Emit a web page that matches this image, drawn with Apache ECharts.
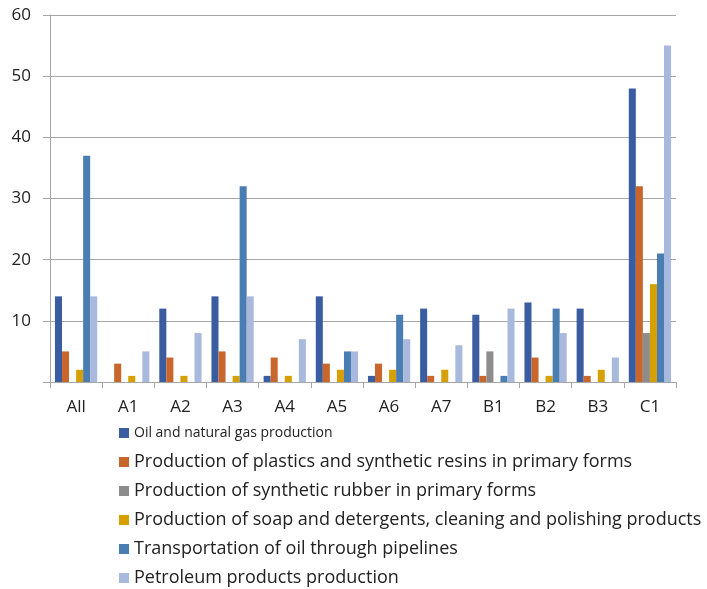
<!DOCTYPE html>
<html>
<head>
<meta charset="utf-8">
<script src="https://cdn.jsdelivr.net/npm/echarts@6/dist/echarts.min.js"></script>
<style>
  html, body { margin: 0; padding: 0; background: #fff; }
  #chart { width: 707px; height: 589px; }
</style>
</head>
<body>
<div id="chart"></div>
<script>
// Categories along the x axis
const categories = ['All', 'A1', 'A2', 'A3', 'A4', 'A5', 'A6', 'A7', 'B1', 'B2', 'B3', 'C1'];

// Series names
const seriesNames = [
  'Oil and natural gas production',
  'Production of plastics and synthetic resins in primary forms',
  'Production of synthetic rubber in primary forms',
  'Production of soap and detergents, cleaning and polishing products',
  'Transportation of oil through pipelines',
  'Petroleum products production'
];

// Values per series, one per category
const oilGas      = [14, 0, 12, 14, 1, 14, 1, 12, 11, 13, 12, 48];
const plastics    = [5, 3, 4, 5, 4, 3, 3, 1, 1, 4, 1, 32];
const rubber      = [0, 0, 0, 0, 0, 0, 0, 0, 5, 0, 0, 8];
const soap        = [2, 1, 1, 1, 1, 2, 2, 2, 0, 1, 2, 16];
const pipelines   = [37, 0, 0, 32, 0, 5, 11, 0, 1, 12, 0, 21];
const petroleum   = [14, 5, 8, 14, 7, 5, 7, 6, 12, 8, 4, 55];

// Y axis tick values
const yTicks = [0, 10, 20, 30, 40, 50, 60];

const seriesValues = [oilGas, plastics, rubber, soap, pipelines, petroleum];
const colors = ['#3A5DA2', '#C8662C', '#8C8C8C', '#D6A100', '#4A7EB3', '#A9B8DD'];

const chart = echarts.init(document.getElementById('chart'), null, { renderer: 'canvas' });

const fontFamily = '"Open Sans", Lato, sans-serif';

chart.setOption({
  animation: false,
  color: colors,
  grid: { left: 50, right: 31, top: 15, bottom: 207, containLabel: false },
  xAxis: {
    type: 'category',
    data: categories,
    axisLine: { show: true, lineStyle: { color: '#A6A6A6', width: 1 } },
    axisTick: { show: true, length: 6, alignWithLabel: false, lineStyle: { color: '#A6A6A6' } },
    axisLabel: { color: '#222', fontSize: 17, fontFamily: fontFamily, margin: 17 }
  },
  yAxis: {
    type: 'value',
    min: yTicks[0],
    max: yTicks[yTicks.length - 1],
    interval: 10,
    axisLine: { show: true, lineStyle: { color: '#A6A6A6', width: 1 } },
    axisTick: { show: true, length: 7, lineStyle: { color: '#A6A6A6' } },
    splitLine: { show: true, lineStyle: { color: '#A6A6A6', width: 1 } },
    axisLabel: {
      color: '#222', fontSize: 17, fontFamily: fontFamily, margin: 19,
      formatter: v => (v === 0 ? '' : String(v))
    }
  },
  legend: {
    orient: 'vertical',
    left: 114,
    top: 418,
    height: 175,
    itemWidth: 10,
    itemHeight: 10,
    itemGap: 9,
    icon: 'rect',
    textStyle: { color: '#222', fontSize: 18, fontFamily: fontFamily, lineHeight: 20 },
    data: seriesNames.map((n, i) => i === 0
      ? { name: n, textStyle: { fontSize: 14, lineHeight: 20 } }
      : { name: n })
  },
  series: seriesNames.map((name, i) => ({
    name: name,
    type: 'bar',
    data: seriesValues[i],
    barGap: '0%',
    barCategoryGap: '19%',
    itemStyle: { color: colors[i] }
  }))
});
</script>
</body>
</html>
